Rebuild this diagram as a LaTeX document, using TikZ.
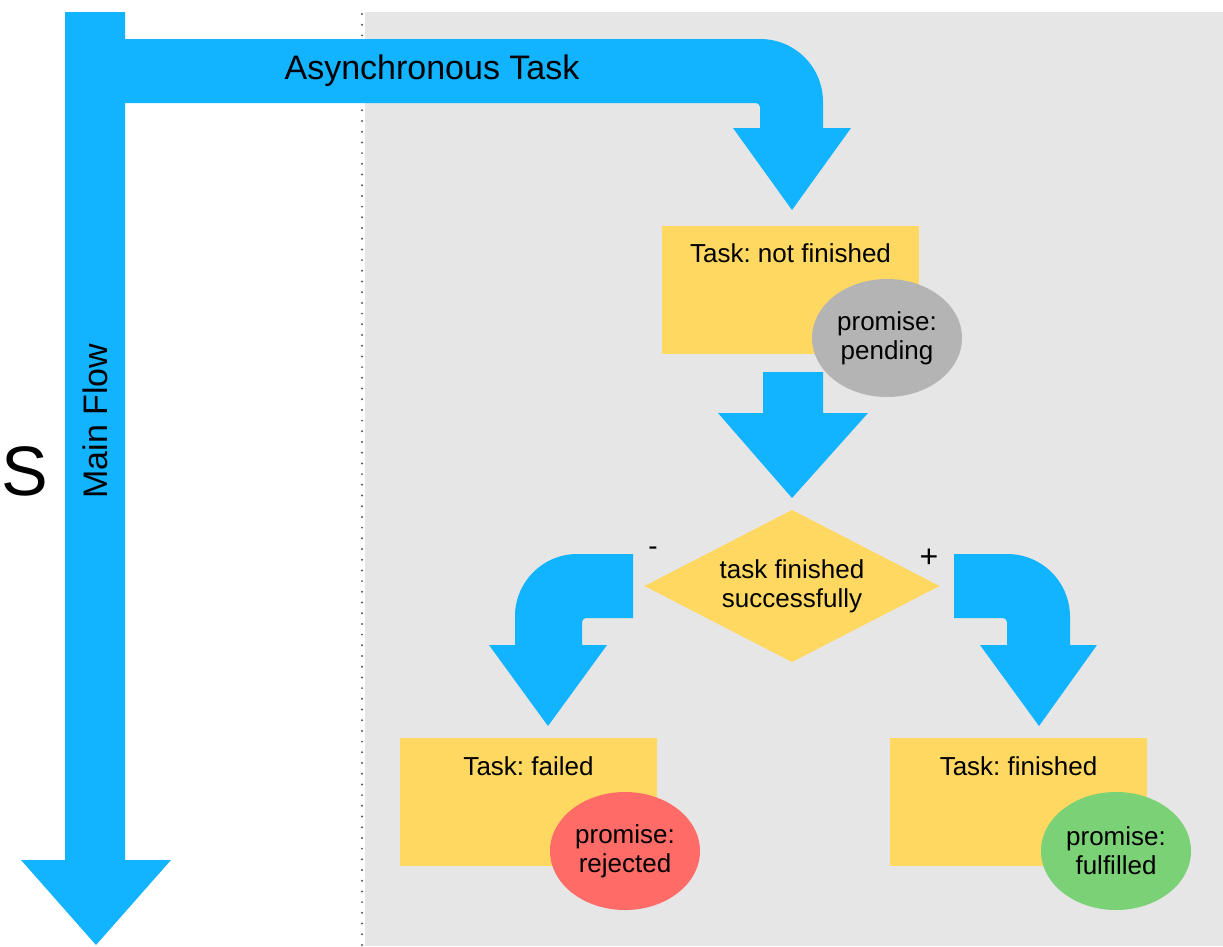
\documentclass[tikz,border=0pt]{standalone}
\usepackage{fontspec}
\setmainfont{Liberation Sans}
\frenchspacing
\usetikzlibrary{shapes.geometric}
\definecolor{flowblue}{HTML}{12B3FF}
\definecolor{boxyellow}{HTML}{FFD862}
\definecolor{bggrey}{HTML}{E6E6E6}
\definecolor{pendgrey}{HTML}{B4B4B4}
\definecolor{rejred}{HTML}{FF6B66}
\definecolor{fulgreen}{HTML}{7AD176}
\definecolor{dotgrey}{HTML}{555555}
\begin{document}
\begin{tikzpicture}[x=1pt,y=-1pt,
  every node/.style={inner sep=0pt, outer sep=0pt, text=black},
  lbl/.style={font=\fontsize{26}{29}\selectfont, align=center},
  biglbl/.style={font=\fontsize{34}{40}\selectfont},
  taskbox/.style={fill=boxyellow, minimum width=257pt, minimum height=128pt},
  promise/.style={ellipse, minimum width=150pt, minimum height=118pt, lbl},
  blockarrow/.style={fill=flowblue},
  dotline/.style={draw=dotgrey, line width=2.2pt, line cap=round, dash pattern=on 0pt off 10.7pt}]
\useasboundingbox (0,0) rectangle (1223,946);
% background region
\fill[bggrey] (365,12) rectangle (1223,946);
\draw[dotline] (362,14) -- (362,946);

% main flow arrow
\fill[blockarrow] (65,12) -- (125,12) -- (125,860) -- (171,860) -- (96,945) -- (21,860) -- (65,860) -- cycle;
% asynchronous task arrow
\fill[blockarrow] (125,39) -- (760,39) .. controls (795,39) and (823,67) .. (823,102)
  -- (823,128) -- (851,128) -- (792,210) -- (733,128) -- (760,128) -- (760,107)
  .. controls (760,105) and (758,103) .. (756,103) -- (125,103) -- cycle;
% straight arrow
\fill[blockarrow] (763,372) -- (823,372) -- (823,413) -- (868,413) -- (792,498) -- (718,413) -- (763,413) -- cycle;
% left (-) arrow
\fill[blockarrow] (633,554) -- (577,554) .. controls (543,554) and (515,582) .. (515,616)
  -- (515,645) -- (489,645) -- (548,726) -- (607,645) -- (582,645) -- (582,622)
  .. controls (582,620) and (584,618) .. (586,618) -- (633,618) -- cycle;
% right (+) arrow
\fill[blockarrow] (954,554) -- (1007,554) .. controls (1042,554) and (1070,582) .. (1070,617)
  -- (1070,645) -- (1097,645) -- (1039,726) -- (980,645) -- (1007,645) -- (1007,622)
  .. controls (1007,620) and (1005,618) .. (1003,618) -- (954,618) -- cycle;

% labels on arrows
\node[biglbl] (async) at (432,71) {Asynchronous Task};
\node[biglbl, rotate=90] (mainflow) at (95,421) {Main Flow};
\node[font=\fontsize{70}{80}\selectfont] (s) at (25,471) {S};

% task boxes
\node[taskbox] (t1) at (790.5,290) {};
\node[lbl] (t1txt) at ([yshift=-27pt]t1.north) {Task: not finished};
\node[promise, fill=pendgrey] (p1) at (887,338) {promise:\\pending};

\node[diamond, aspect=1.94, fill=boxyellow, minimum width=295pt, minimum height=152pt, lbl] (dec) at (792,586) {task finished\\successfully};
\node[lbl, font=\fontsize{28}{30}\selectfont] (minus) at (653,551) {-};
\node[lbl, font=\fontsize{32}{34}\selectfont] (plus) at (929,558) {+};

\node[taskbox] (t2) at (528.5,802) {};
\node[lbl] (t2txt) at ([yshift=-28pt]t2.north) {Task: failed};
\node[promise, fill=rejred] (p2) at (625,851) {promise:\\rejected};

\node[taskbox] (t3) at (1018.5,802) {};
\node[lbl] (t3txt) at ([yshift=-28pt]t3.north) {Task: finished};
\node[promise, fill=fulgreen] (p3) at (1116,851) {promise:\\fulfilled};
\end{tikzpicture}
\end{document}
